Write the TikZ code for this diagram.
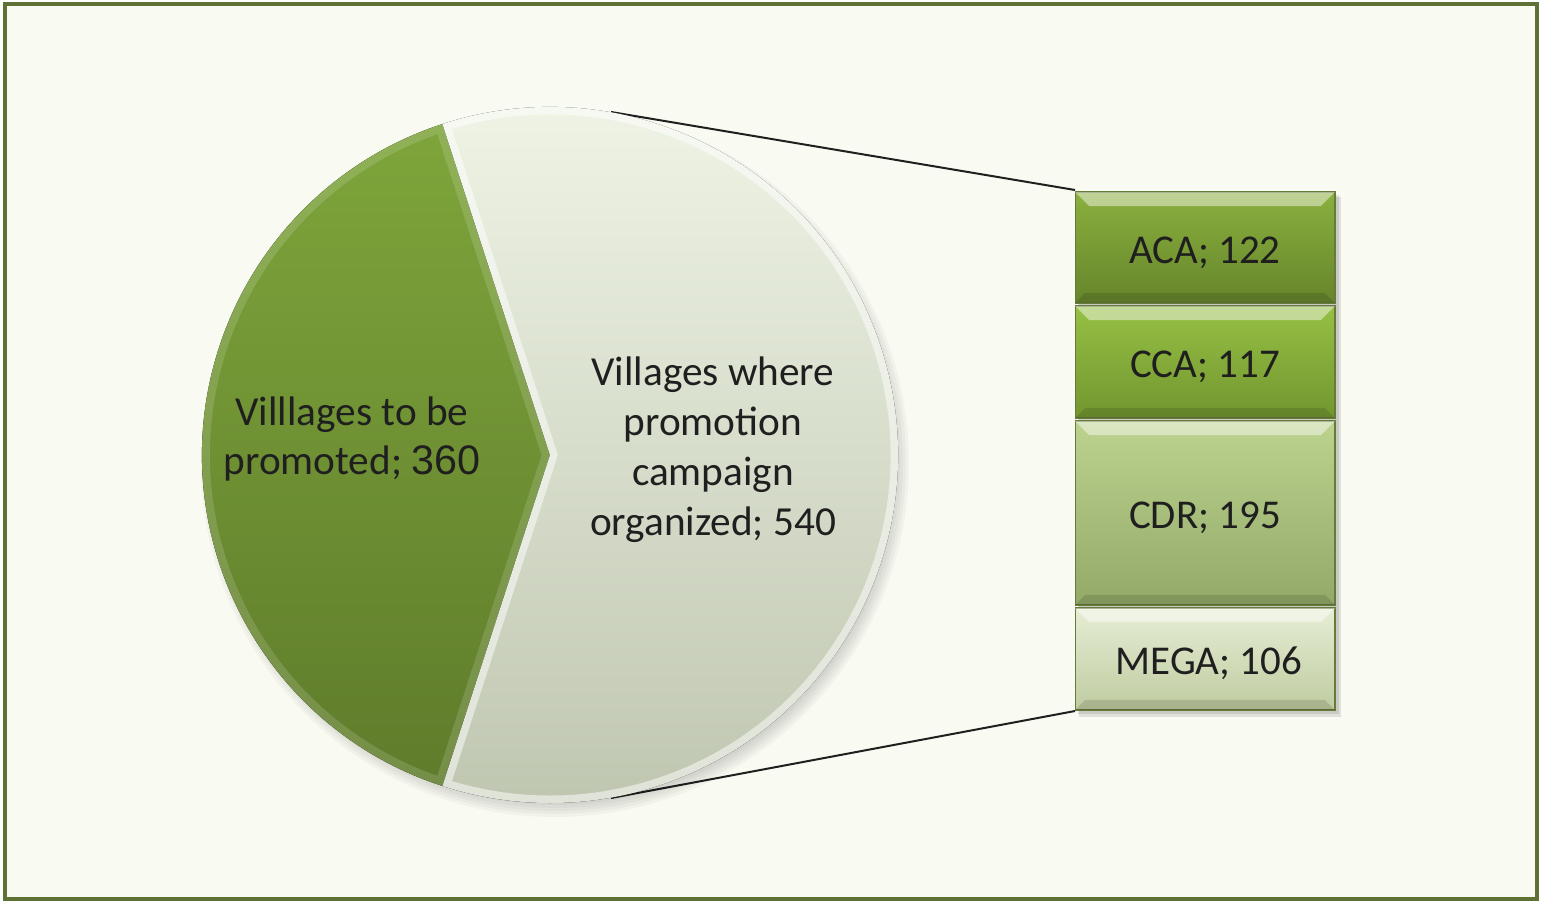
\documentclass[tikz,border=0pt]{standalone}
\usepackage{fontspec}
\setmainfont{Carlito}
\newfontfamily\arialf{Liberation Sans}
\usetikzlibrary{calc}
\definecolor{bgc}{HTML}{F9FBF3}
\definecolor{bordc}{HTML}{5F7134}
\definecolor{gtop}{HTML}{7EA53B}
\definecolor{gbot}{HTML}{5F7C2B}
\definecolor{ltop}{HTML}{F1F6E8}
\definecolor{lbot}{HTML}{BFC6B0}
\definecolor{acatop}{HTML}{8AB03E}
\definecolor{acabot}{HTML}{66852B}
\definecolor{ccatop}{HTML}{96C044}
\definecolor{ccabot}{HTML}{72962F}
\definecolor{cdrtop}{HTML}{BCD38F}
\definecolor{cdrbot}{HTML}{93A968}
\definecolor{megatop}{HTML}{E6EDD5}
\definecolor{megabot}{HTML}{BFCCA0}
\definecolor{edgec}{HTML}{667A3A}
\tikzset{
  lbl/.style={align=center, inner sep=0pt, font=\fontsize{23.5}{28.4}\selectfont, text=black!88},
  barbox/.style={minimum width=5.2cm, inner sep=0pt, outer sep=0pt, draw=edgec, line width=0.6pt,
     text height=0.63cm, text depth=0pt,
     font=\fontsize{23.3}{28}\selectfont, text=black!88},
  conn/.style={draw=black!88, line width=0.04cm}
}
\begin{document}
\begin{tikzpicture}[x=0.02cm,y=-0.02cm]
\useasboundingbox (0,0) rectangle (1542,902);
\fill[white] (0,0) rectangle (1542,902);
\fill[bgc] (5,4) rectangle (1537,899);
\draw[bordc, line width=0.08cm] (5,4) rectangle (1537,899);

\coordinate (C) at (550,455);
\coordinate (tT) at (611,112);
\coordinate (tB) at (611,798);

% connectors (behind pie)
\draw[conn] (tT) -- (1075,190) coordinate (barTL);
\draw[conn] (tB) -- (1075,711) coordinate (barBL);

% pie shadow
\foreach \d in {0,3,...,18} {
  \fill[black, opacity=0.03] ($(C)+(5,8)$) circle[radius={336+\d}];
}

% green slice
\fill[top color=gtop, bottom color=gbot]
  (C) -- ++(108:348) arc[start angle=108, end angle=252, radius=348] -- cycle;
\begin{scope}
  \clip (C) -- ++(108:348) arc[start angle=108, end angle=252, radius=348] -- cycle;
  \draw[white, opacity=0.14, line width=0.32cm]
    (C) -- ++(108:348) arc[start angle=108, end angle=252, radius=348] -- cycle;
\end{scope}
% light slice
\fill[top color=ltop, bottom color=lbot]
  (C) -- ++(-108:348) arc[start angle=-108, end angle=108, radius=348] -- cycle;
\begin{scope}
  \clip (C) -- ++(-108:348) arc[start angle=-108, end angle=108, radius=348] -- cycle;
  \draw[white, opacity=0.5, line width=0.3cm]
    (C) -- ++(-108:348) arc[start angle=-108, end angle=108, radius=348] -- cycle;
\end{scope}

\node[lbl] (t1) at (352,439) {Villlages to be\\promoted; {\arialf 360}};
\node[lbl] (t2) at (713,450) {Villages where\\promotion\\campaign\\organized; 540};

% bar shadow
\fill[black, opacity=0.10] (1079,197) rectangle (1341,717);
\fill[black, opacity=0.10] (1078,195) rectangle (1339,714);

% bars
\node[barbox, minimum height=2.22cm, top color=acatop, bottom color=acabot] (aca) at (1205,247.5) {ACA; 122};
\node[barbox, minimum height=2.24cm, top color=ccatop, bottom color=ccabot] (cca) at (1205,362) {CCA; 117};
\node[barbox, minimum height=3.68cm, top color=cdrtop, bottom color=cdrbot] (cdr) at (1205,513) {CDR; 195};
\node[barbox, minimum height=2.04cm, top color=megatop, bottom color=megabot] (mega) at (1205,659) {\hspace{0.15cm}MEGA; 106};

\foreach \n in {aca,cca,cdr,mega} {
  \fill[white, opacity=0.45] (\n.north west) -- (\n.north east) -- ($(\n.north east)+(-14,14)$) -- ($(\n.north west)+(14,14)$) -- cycle;
  \fill[black, opacity=0.12] (\n.south west) -- (\n.south east) -- ($(\n.south east)+(-10,-10)$) -- ($(\n.south west)+(10,-10)$) -- cycle;
}
\end{tikzpicture}
\end{document}
